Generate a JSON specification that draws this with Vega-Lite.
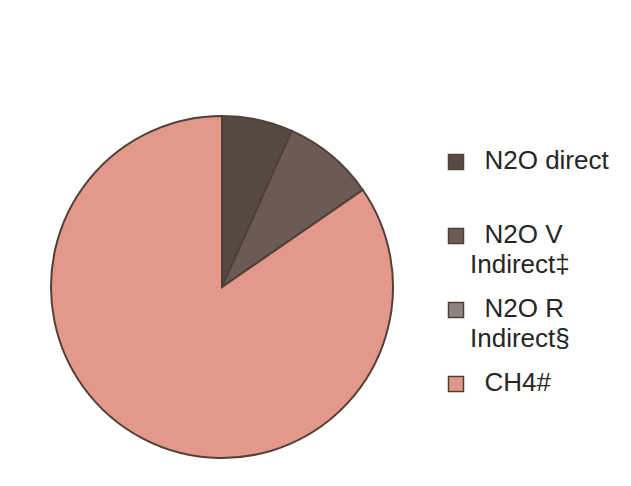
{
  "$schema": "https://vega.github.io/schema/vega-lite/v6.json",
  "width": 344,
  "height": 344,
  "autosize": {"type": "none"},
  "padding": {"left": 50, "top": 115, "right": 237, "bottom": 27},
  "background": "white",
  "data": {
    "values": [
      {"source": "N2O direct", "share": 6.7},
      {"source": "N2O V Indirect‡", "share": 8.7},
      {"source": "N2O R Indirect§", "share": 0},
      {"source": "CH4#", "share": 84.6}
    ]
  },
  "mark": {"type": "arc", "radius": 171, "stroke": "#4f4038", "strokeWidth": 2},
  "encoding": {
    "theta": {"field": "share", "type": "quantitative", "stack": true},
    "order": {"field": "share", "type": "quantitative", "sort": "ascending"},
    "color": {
      "field": "source",
      "type": "nominal",
      "sort": ["N2O direct", "N2O V Indirect‡", "N2O R Indirect§", "CH4#"],
      "scale": {
        "domain": ["N2O direct", "N2O V Indirect‡", "N2O R Indirect§", "CH4#"],
        "range": ["#574a43", "#6b5b53", "#8e8580", "#e4988a"]
      },
      "legend": {
        "title": null,
        "orient": "none",
        "legendX": 393,
        "legendY": 34,
        "padding": 0,
        "gridAlign": "all",
        "rowPadding": 18,
        "symbolType": "square",
        "symbolSize": 225,
        "symbolStrokeColor": "#4f4038",
        "symbolStrokeWidth": 1.5,
        "labelFont": "Liberation Sans",
        "labelFontSize": 26,
        "labelColor": "#262626",
        "labelOffset": 1,
        "labelLimit": 0,
        "labelBaseline": "alphabetic",
        "labelExpr": "datum.label == 'N2O V Indirect‡' ? ['\u200b\u00a0\u00a0N2O V', 'Indirect‡'] : datum.label == 'N2O R Indirect§' ? ['\u200b\u00a0\u00a0N2O R', 'Indirect§'] : '\u200b\u00a0\u00a0' + datum.label",
        "encode": {
          "labels": {"update": {"dy": {"value": 7}, "lineHeight": {"value": 30}}}
        }
      }
    }
  }
}
